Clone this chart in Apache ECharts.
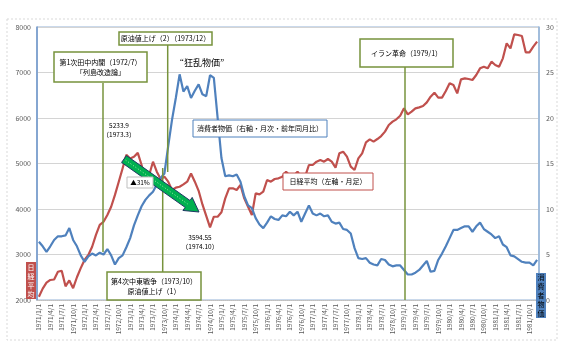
<!DOCTYPE html>
<html><head><meta charset="utf-8">
<script src="https://cdn.jsdelivr.net/npm/echarts@6/dist/echarts.min.js"></script>
<style>html,body{margin:0;padding:0;background:#fff}#c{width:567px;height:359px}</style>
</head><body><div id="c"></div>
<script>
// Category labels: monthly 1971/1/1 .. 1981/12/1
var years = [1971,1972,1973,1974,1975,1976,1977,1978,1979,1980,1981];
var months = [1,2,3,4,5,6,7,8,9,10,11,12];
var categories = [];
years.forEach(function(y){ months.forEach(function(m){ categories.push(y + '/' + m + '/1'); }); });

// 日経平均（左軸・月足）
var nikkei = [
 2073,2250,2380,2440,2450,2620,2644,2300,2430,2260,2500,2700,
 2880,2990,3170,3430,3650,3720,3870,4050,4310,4600,4890,5190,
 5110,5150,5234,4967,4600,4747,5040,4820,4660,4710,4600,4418,
 4470,4490,4540,4600,4780,4600,4400,4100,3850,3595,3830,3830,
 3927,4234,4454,4454,4418,4527,4234,4051,3868,4344,4322,4380,
 4637,4600,4659,4674,4711,4821,4733,4733,4821,4696,4711,4967,
 4967,5040,5077,5040,5099,5040,4908,5223,5260,5150,4930,4857,
 5114,5223,5465,5530,5480,5538,5604,5700,5846,5919,5971,6051,
 6212,6080,6139,6212,6234,6263,6344,6468,6556,6447,6447,6593,
 6762,6725,6542,6850,6872,6857,6835,6945,7091,7128,7091,7238,
 7165,7128,7311,7641,7531,7839,7824,7802,7443,7443,7568,7678
];
// 消費者物価（右軸・月次・前年同月比）
var cpi = [
 6.4,5.9,5.3,5.9,6.6,7.0,7.0,7.1,7.9,6.6,5.9,4.9,
 4.2,4.8,5.1,4.9,5.2,5.0,5.6,4.9,3.9,4.6,4.9,5.8,
 6.8,8.2,9.3,10.3,11.0,11.5,11.9,12.7,13.4,13.9,16.9,19.8,
 22.2,24.8,22.9,23.5,22.2,23.0,23.7,22.6,22.4,24.7,24.4,20.0,
 15.6,13.6,13.7,13.6,13.8,13.0,11.4,10.4,10.1,9.0,8.3,7.9,
 8.5,9.2,8.9,8.8,9.3,9.2,9.7,9.3,9.7,8.6,9.5,10.4,
 9.5,9.3,9.5,9.2,9.3,8.6,8.4,8.5,7.8,7.7,7.3,5.7,
 4.6,4.5,4.6,4.1,3.9,3.8,4.5,4.4,3.9,3.7,3.8,3.8,
 3.3,2.8,2.8,3.0,3.3,3.8,4.3,3.1,3.2,4.4,5.1,5.9,
 6.8,7.7,7.7,7.9,8.1,8.1,7.5,8.1,8.5,7.8,7.5,7.2,
 6.8,7.0,6.1,5.8,4.9,4.8,4.5,4.2,4.1,4.1,3.8,4.4
];
var leftTicks = {min:2000, max:8000, interval:1000};
var rightTicks = {min:0, max:30, interval:5};

var FONT = '"Noto Sans CJK JP","Noto Sans",sans-serif';
var GREEN = '#77933C', RED = '#C0504D', BLUE = '#4F81BD';

function box(x,y,w,h,stroke,fill,lw,z){
  return {type:'rect', z:z||100, shape:{x:x,y:y,width:w,height:h},
    style:{fill:fill||'#fff', stroke:stroke, lineWidth:(lw===undefined?1.5:lw)}};
}
function txt(x,y,t,size,color,weight,z,lh){
  var st = {x:x,y:y,text:t,fill:color||'#000',
    font:(weight||'normal')+' '+(size||7)+'px '+FONT,
    textAlign:'center', textVerticalAlign:'middle', align:'center', verticalAlign:'middle'};
  if (lh) st.lineHeight = lh;
  return {type:'text', z:z||101, style:st};
}
function vline(x,y1,y2){
  return {type:'line', z:99, shape:{x1:x,y1:y1,x2:x,y2:y2}, style:{stroke:GREEN,lineWidth:1.5}};
}
// green block arrow
var ax0=124, ay0=159, ax1=199, ay1=212;
var dx=ax1-ax0, dy=ay1-ay0, L=Math.sqrt(dx*dx+dy*dy), ux=dx/L, uy=dy/L, nx=-uy, ny=ux;
var hbx=ax1-ux*14, hby=ay1-uy*14, sw=4.2, hw=8;
var arrowPts=[[ax0+nx*sw,ay0+ny*sw],[hbx+nx*sw,hby+ny*sw],[hbx+nx*hw,hby+ny*hw],[ax1,ay1],
  [hbx-nx*hw,hby-ny*hw],[hbx-nx*sw,hby-ny*sw],[ax0-nx*sw,ay0-ny*sw]];

var graphics = [
  {type:'rect', z:0, shape:{x:7,y:19,width:550,height:321}, style:{fill:'none',stroke:'#D9D9D9',lineWidth:1,lineDash:[2,2]}},
  vline(103,83,252), vline(162.7,168,272), vline(167.7,45,172), vline(405,67,300),
  box(54,52,93,30,GREEN), txt(100.5,62,'第1次田中内閣（1972/7）',7), txt(100.5,72.5,'「列島改造論」',7),
  box(119,32,93,13,GREEN), txt(165.5,38.5,'原油値上げ（2）（1973/12）',7),
  txt(202,63,'“狂乱物価”',9),
  txt(119,126,'5233.9',6.5), txt(119,135,'（1973.3）',6.5),
  {type:'polygon', z:102, shape:{points:arrowPts}, style:{fill:'#00B050',stroke:'#1F3864',lineWidth:1}},
  {type:'line', z:103, shape:{x1:ax0+ux*2,y1:ay0+uy*2,x2:hbx,y2:hby}, style:{stroke:'#A8ECA8',lineWidth:1,lineDash:[1,2]}},
  box(127,177,26,11,'#BFBFBF','#fff',1,110), txt(140,182.5,'▲31%',6.5,'#000','normal',111),
  txt(200,238,'3594.55',6.5), txt(200,247,'（1974.10）',6.5),
  box(107,272,94,28,GREEN), txt(154,281.5,'第4次中東戦争（1973/10）',7), txt(154,291.5,'原油値上げ（1）',7),
  box(193,120,134,17,BLUE,'#fff',1), txt(260,128.5,'消費者物価（右軸・月次・前年同月比）',7),
  box(283,173,90,17,RED,'#fff',1), txt(328,181.5,'日経平均（左軸・月足）',7),
  box(360,39,93,28,GREEN), txt(406.5,53,'イラン革命（1979/1）',7),
  box(26,262,10,37,'none',RED,0), txt(31,280.5,'日\n経\n平\n均',7,'#fff','normal',101,9),
  box(536,273,10,45,'none',BLUE,0), txt(541,295.5,'消\n費\n者\n物\n価',7,'#000','normal',101,9)
];

var chart = echarts.init(document.getElementById('c'), null, {renderer:'canvas'});
chart.setOption({
  animation:false,
  backgroundColor:'#fff',
  textStyle:{fontFamily:FONT},
  grid:{left:37,right:28,top:27,bottom:59,show:true,borderColor:'#95B3D7',borderWidth:1,backgroundColor:'transparent'},
  xAxis:{type:'category',data:categories,boundaryGap:true,
    axisLine:{show:true,lineStyle:{color:'#BFBFBF',type:'dotted'}},
    axisTick:{show:false},
    axisLabel:{rotate:90,interval:2,fontSize:6.5,color:'#595959',margin:4,fontFamily:FONT},
    splitLine:{show:false}},
  yAxis:[
    {type:'value',position:'left',min:leftTicks.min,max:leftTicks.max,interval:leftTicks.interval,
      axisLine:{show:true,lineStyle:{color:'#6E95C8',width:1.5}},axisTick:{show:false},
      axisLabel:{fontSize:7,color:'#595959',margin:6,fontFamily:FONT,formatter:function(v){return String(v);}},
      splitLine:{show:true,lineStyle:{color:'#D4D4D4',width:1}}},
    {type:'value',position:'right',min:rightTicks.min,max:rightTicks.max,interval:rightTicks.interval,
      axisLine:{show:true,lineStyle:{color:'#95B3D7',width:1.5}},axisTick:{show:false},
      axisLabel:{fontSize:7,color:'#595959',margin:7,fontFamily:FONT},
      splitLine:{show:false}}
  ],
  series:[
    {name:'日経平均',type:'line',yAxisIndex:0,data:nikkei,showSymbol:false,
      lineStyle:{color:RED,width:2.2},itemStyle:{color:RED},z:3},
    {name:'消費者物価',type:'line',yAxisIndex:1,data:cpi,showSymbol:false,
      lineStyle:{color:BLUE,width:2.2},itemStyle:{color:BLUE},z:4}
  ],
  graphic:{elements:graphics}
});
</script></body></html>
